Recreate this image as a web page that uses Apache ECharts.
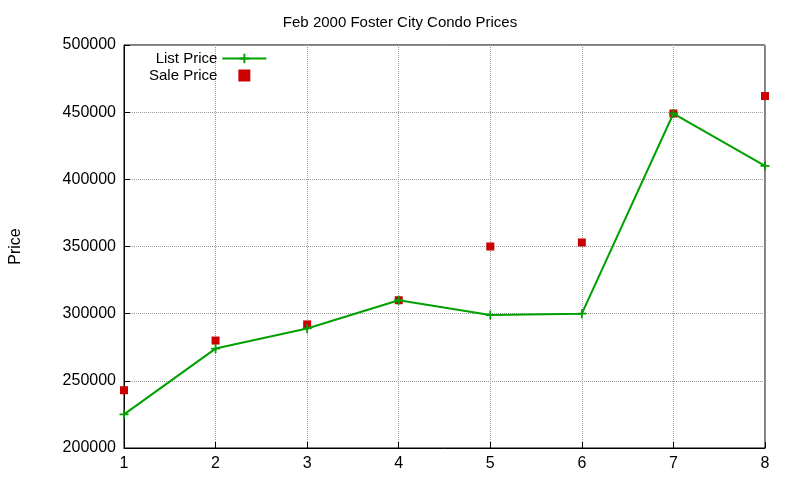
<!DOCTYPE html><html><head><meta charset="utf-8"><script src="https://cdn.jsdelivr.net/npm/echarts@6/dist/echarts.min.js"></script></head><body style="margin:0"><div id="c" style="width:800px;height:480px"></div><script>
const xs=[1,2,3,4,5,6,7,8];
const listPrice=[225000,274000,289000,310000,299000,300000,449000,410000];
const salePrice=[243000,280000,292000,310000,350000,353000,449000,462000];
const ch=echarts.init(document.getElementById('c'));
const ax={fontFamily:'Liberation Sans',fontSize:16,color:'#000'};
ch.setOption({backgroundColor:'#fff',animation:false,
title:{text:'Feb 2000 Foster City Condo Prices',left:'center',top:10,textStyle:{fontFamily:'Liberation Sans',fontSize:15,fontWeight:'normal',color:'#000'}},
legend:{orient:'vertical',left:144,top:46,align:'right',itemGap:2,itemWidth:44,itemHeight:12,textStyle:{fontFamily:'Liberation Sans',fontSize:15,color:'#000'},
data:[{name:'List Price'},{name:'Sale Price',icon:'path://M16,0H24V8H16Z'}]},
grid:{left:118,right:35,top:45,bottom:32,show:true,borderColor:'#000',borderWidth:1},
xAxis:{type:'value',min:1,max:8,interval:1,axisLine:{lineStyle:{color:'#000'}},axisTick:{inside:true,length:6},axisLabel:ax,splitLine:{lineStyle:{type:'dotted',color:'#999'}}},
yAxis:{type:'value',min:200000,max:500000,interval:50000,name:'Price',nameLocation:'middle',nameGap:100,nameTextStyle:ax,axisLine:{show:true,lineStyle:{color:'#000'}},axisTick:{inside:true,length:6},axisLabel:{...ax,formatter:v=>String(v)},splitLine:{lineStyle:{type:'dotted',color:'#999'}}},
series:[{name:'List Price',type:'line',data:xs.map((x,i)=>[x,listPrice[i]]),color:'#00a000',lineStyle:{width:2},symbol:'path://M4,0H6V4H10V6H6V10H4V6H0V4H4Z',symbolSize:9},
{name:'Sale Price',type:'scatter',data:xs.map((x,i)=>[x,salePrice[i]]),color:'#cc0000',itemStyle:{opacity:1},symbol:'rect',symbolSize:8}]});
</script></body></html>
